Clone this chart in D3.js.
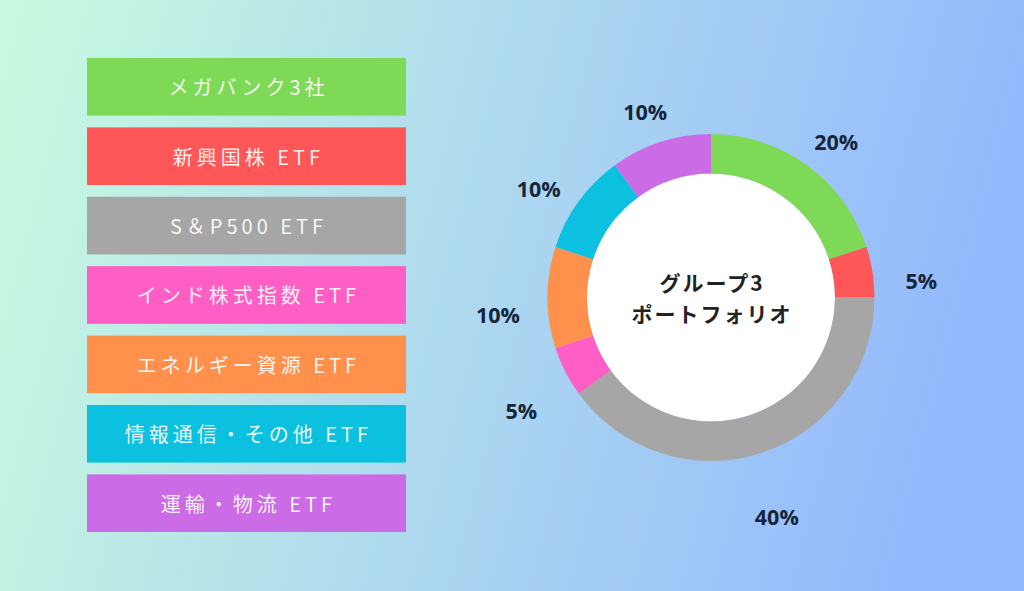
<!DOCTYPE html>
<html><head><meta charset="utf-8">
<script src="https://cdn.jsdelivr.net/npm/d3@7"></script>
<style>
html,body{margin:0;padding:0;overflow:hidden;}
svg{display:block;}
</style></head>
<body>
<svg id="chart" width="1024" height="591"></svg>
<script>
const categories = ["メガバンク3社","新興国株 ETF","S＆P500 ETF","インド株式指数 ETF","エネルギー資源 ETF","情報通信・その他 ETF","運輸・物流 ETF"];
const values = [20,5,40,5,10,10,10];
const colors = ["#7ed957","#ff5757","#a6a6a6","#ff5ec4","#ff914d","#0cc0df","#cb6ce6"];
const centerTitle = ["グループ3","ポートフォリオ"];

const W = 1024, H = 591;
const svg = d3.select("#chart");
const defs = svg.append("defs");
const grad = defs.append("linearGradient").attr("id","bg").attr("x1","0").attr("y1","0").attr("x2","1").attr("y2","0.15");
grad.append("stop").attr("offset","0").attr("stop-color","#c9fbdf");
grad.append("stop").attr("offset","1").attr("stop-color","#94b9fd");
svg.append("rect").attr("width",W).attr("height",H).attr("fill","url(#bg)");

// Legend boxes
const band = d3.scaleBand().domain(categories).range([58, 532]).paddingInner(0.17).paddingOuter(0);
const lg = svg.append("g");
const item = lg.selectAll("g").data(categories).join("g")
  .attr("transform", d => `translate(87,${band(d)})`);
item.append("rect").attr("width",319).attr("height",band.bandwidth())
  .attr("fill",(d,i)=>colors[i]);
item.append("text").attr("x",159.5 + 2).attr("y",band.bandwidth()/2)
  .attr("text-anchor","middle").attr("dominant-baseline","central")
  .attr("fill","rgba(255,255,255,0.93)")
  .attr("font-family","'Noto Sans CJK JP','Noto Sans',sans-serif")
  .attr("font-size",20).attr("letter-spacing","4px")
  .text(d=>d);

// Donut
const cx = 711, cy = 297.5;
const pie = d3.pie().sort(null).value(d=>d);
const arcs = pie(values);
const arc = d3.arc().innerRadius(124).outerRadius(163.5);
const g = svg.append("g").attr("transform",`translate(${cx},${cy})`);
g.append("circle").attr("r",124).attr("fill","#ffffff");
g.selectAll("path").data(arcs).join("path")
  .attr("d",arc).attr("fill",(d,i)=>colors[i]);

const labelR = 213, labelDy = 16.5;
g.selectAll("text.pct").data(arcs).join("text").attr("class","pct")
  .attr("x", d => labelR*Math.sin((d.startAngle+d.endAngle)/2))
  .attr("y", d => -labelR*Math.cos((d.startAngle+d.endAngle)/2) + labelDy)
  .attr("text-anchor","middle").attr("dominant-baseline","central")
  .attr("font-family","'Open Sans', Lato, sans-serif").attr("font-weight","bold")
  .attr("font-size",21.5).attr("fill","#15253a")
  .text(d => d.data + "%");

g.selectAll("text.title").data(centerTitle).join("text").attr("class","title")
  .attr("x",1).attr("y",(d,i)=> -15.5 + i*31)
  .attr("text-anchor","middle").attr("dominant-baseline","central")
  .attr("font-family","'Noto Sans CJK JP',sans-serif").attr("font-weight","bold")
  .attr("font-size",21).attr("letter-spacing","2px").attr("fill","#222222")
  .text(d=>d);
</script>
</body></html>
